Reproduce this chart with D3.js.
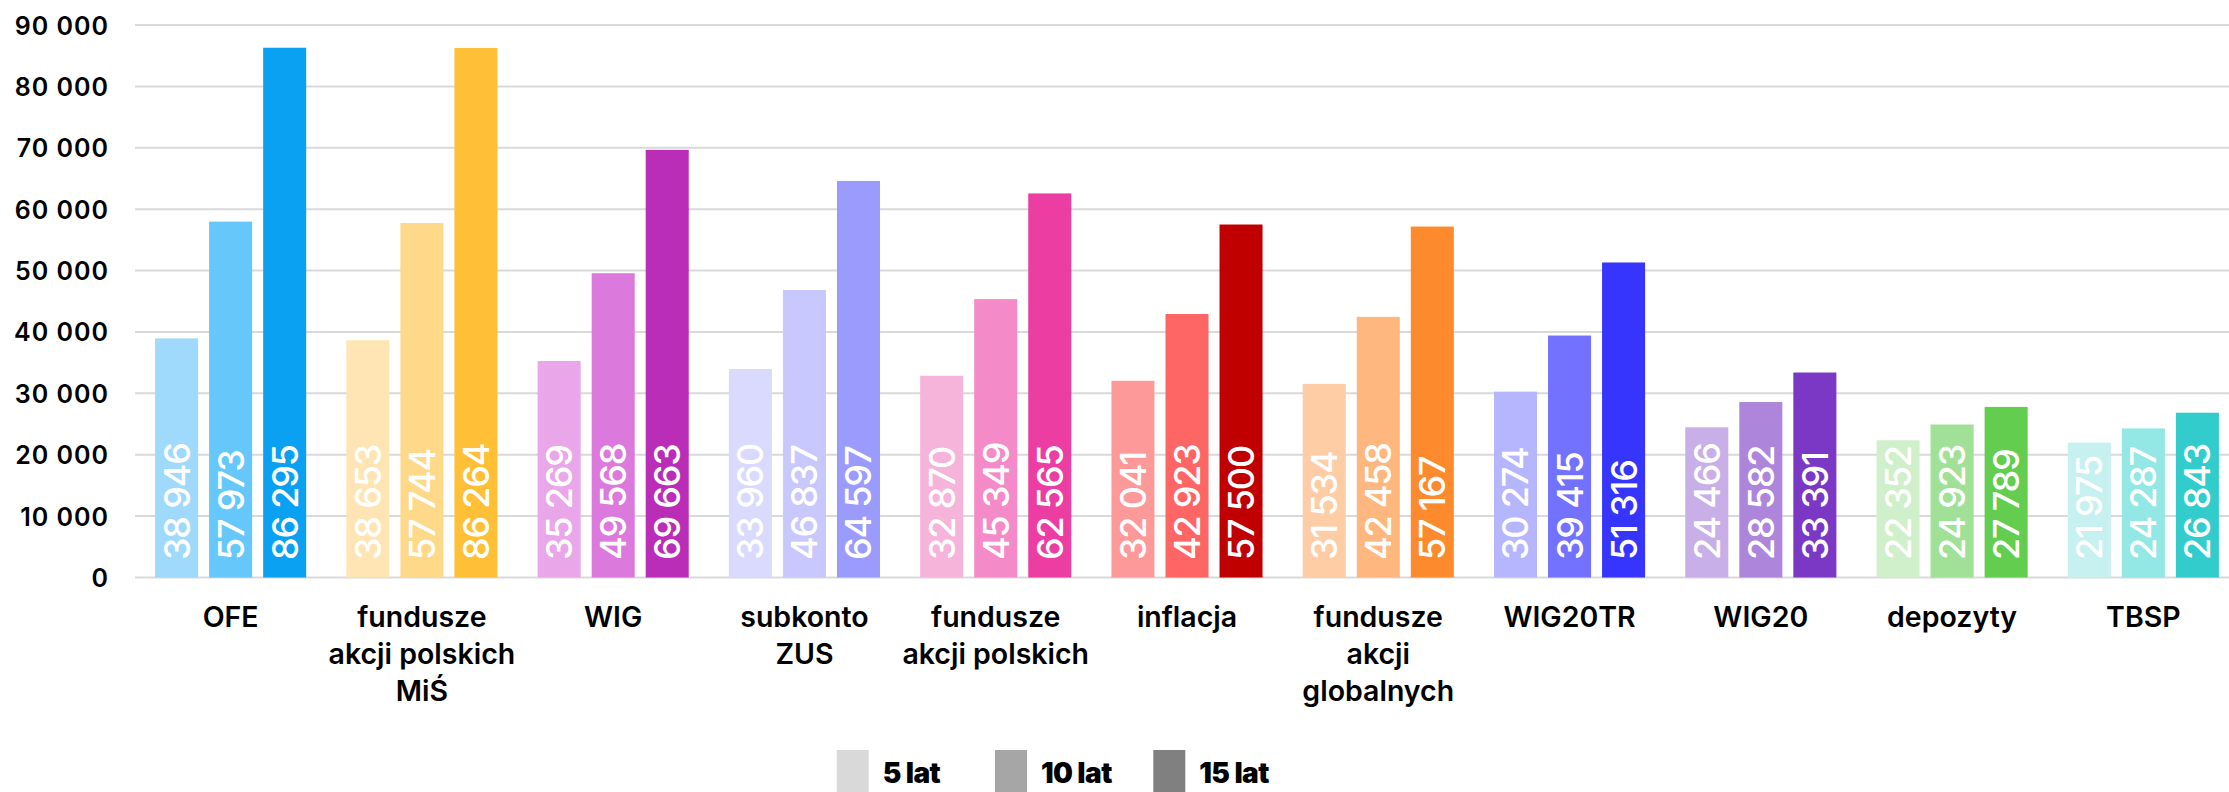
<!DOCTYPE html>
<html>
<head>
  <meta charset="utf-8">
  <title>Wartość inwestycji</title>
  <script src="https://d3js.org/d3.v7.min.js"></script>
  <style>
    body { margin: 0; background: #fff; }
    text { font-family: Inter, "Open Sans", sans-serif; }
  </style>
</head>
<body>
  <svg id="chart"></svg>

  <script>
    // categories (one label per line) and the three horizons
    var categories = ["OFE", "fundusze akcji polskich MiŚ", "WIG", "subkonto ZUS", "fundusze akcji polskich",
                      "inflacja", "fundusze akcji globalnych", "WIG20TR", "WIG20", "depozyty", "TBSP"];
    var categoryLines = [["OFE"], ["fundusze", "akcji polskich", "MiŚ"], ["WIG"], ["subkonto", "ZUS"],
                         ["fundusze", "akcji polskich"], ["inflacja"], ["fundusze", "akcji", "globalnych"],
                         ["WIG20TR"], ["WIG20"], ["depozyty"], ["TBSP"]];
    var series = ["5 lat", "10 lat", "15 lat"];

    var values5  = [38946, 38653, 35269, 33960, 32870, 32041, 31534, 30274, 24466, 22352, 21975];
    var values10 = [57973, 57744, 49568, 46837, 45349, 42923, 42458, 39415, 28582, 24923, 24287];
    var values15 = [86295, 86264, 69663, 64597, 62565, 57500, 57167, 51316, 33391, 27789, 26843];

    var yTicks = [0, 10000, 20000, 30000, 40000, 50000, 60000, 70000, 80000, 90000];

    // light / mid / dark shade for each category
    var palette = [
      ["#9fd9fb", "#66c7fa", "#0ba1f2"],
      ["#fee5b3", "#fed98a", "#ffbf37"],
      ["#e9a7e9", "#dc79dc", "#b92db7"],
      ["#dadafe", "#c8c8fe", "#9b9bfe"],
      ["#f7b4db", "#f48bc8", "#ec3da2"],
      ["#fe9999", "#fe6666", "#c00000"],
      ["#fecda6", "#feb77f", "#fe8a2e"],
      ["#b6b6fe", "#7272fe", "#3535fe"],
      ["#c9afe8", "#ad85db", "#7a38c4"],
      ["#d0efcb", "#a0e197", "#62cd4e"],
      ["#c7f1f0", "#93e7e4", "#33cccc"]
    ];
    var legendColors = ["#d9d9d9", "#a6a6a6", "#808080"];

    var width = 2229, height = 792;
    var plotLeft = 135, plotRight = 2239, plotTop = 25, plotBottom = 577.5;

    var svg = d3.select("#chart").attr("width", width).attr("height", height);

    var pl = d3.formatLocale({ decimal: ",", thousands: " ", grouping: [3], currency: ["", ""] });
    var fmt = pl.format(",");

    var y = d3.scaleLinear().domain([0, 90000]).range([plotBottom, plotTop]);
    var x0 = d3.scaleBand().domain(categories).range([plotLeft, plotRight]);
    var bw = x0.bandwidth();
    var x1 = d3.scaleBand().domain(series).range([bw * 0.105, bw * 0.895]).paddingInner(0.2037);

    // gridlines
    svg.append("g")
      .selectAll("line")
      .data(yTicks)
      .enter().append("line")
      .attr("x1", plotLeft).attr("x2", width)
      .attr("y1", d => y(d)).attr("y2", d => y(d))
      .attr("stroke", "#d9d9d9")
      .attr("stroke-width", 2);

    // y axis labels
    var yAxis = svg.append("g")
      .attr("transform", "translate(" + plotLeft + ",0)")
      .call(d3.axisLeft(y).tickValues(yTicks).tickFormat(fmt).tickSize(0).tickPadding(26));
    yAxis.select(".domain").remove();
    yAxis.selectAll("text")
      .attr("font-family", "Inter, sans-serif")
      .attr("font-size", 25)
      .attr("font-weight", 600)
      .attr("letter-spacing", 1)
      .attr("fill", "#000")
      .attr("dy", "0.36em");

    var rows = categories.map(function(c, i) {
      return { cat: c, i: i, vals: [values5[i], values10[i], values15[i]] };
    });

    var groups = svg.append("g")
      .selectAll("g")
      .data(rows)
      .enter().append("g")
      .attr("transform", d => "translate(" + x0(d.cat) + ",0)");

    var bars = groups.selectAll("g.bar")
      .data(d => d.vals.map((v, k) => ({ s: series[k], v: v, color: palette[d.i][k] })))
      .enter().append("g").attr("class", "bar");

    bars.append("rect")
      .attr("x", d => x1(d.s))
      .attr("width", x1.bandwidth())
      .attr("y", d => y(d.v))
      .attr("height", d => plotBottom - y(d.v))
      .attr("fill", d => d.color);

    bars.append("text")
      .attr("transform", d => "translate(" + (x1(d.s) + x1.bandwidth() / 2) + "," + (plotBottom - 17.5) + ") rotate(-90)")
      .attr("dy", "0.36em")
      .attr("font-size", 36)
      .attr("font-weight", 500)
      .attr("letter-spacing", -1.2)
      .attr("fill", "#fff")
      .text(d => fmt(d.v));

    // category labels
    groups.append("text")
      .attr("text-anchor", "middle")
      .attr("font-size", 28.5)
      .attr("font-weight", 600)
      .attr("fill", "#000")
      .selectAll("tspan")
      .data(d => categoryLines[d.i])
      .enter().append("tspan")
      .attr("x", bw / 2)
      .attr("y", (d, k) => 626.7 + k * 37)
      .text(d => d);

    // legend at the bottom edge
    var legend = svg.append("g")
      .selectAll("g")
      .data(series)
      .enter().append("g")
      .attr("transform", (d, k) => "translate(" + (836.7 + k * 158.3) + ",750)");

    legend.append("rect")
      .attr("width", 32).attr("height", 42)
      .attr("fill", (d, k) => legendColors[k]);

    legend.append("text")
      .attr("x", 46).attr("y", 33)
      .attr("font-size", 28)
      .attr("font-weight", 900)
      .attr("letter-spacing", -0.6)
      .attr("fill", "#000")
      .text(d => d);
  </script>
</body>
</html>
